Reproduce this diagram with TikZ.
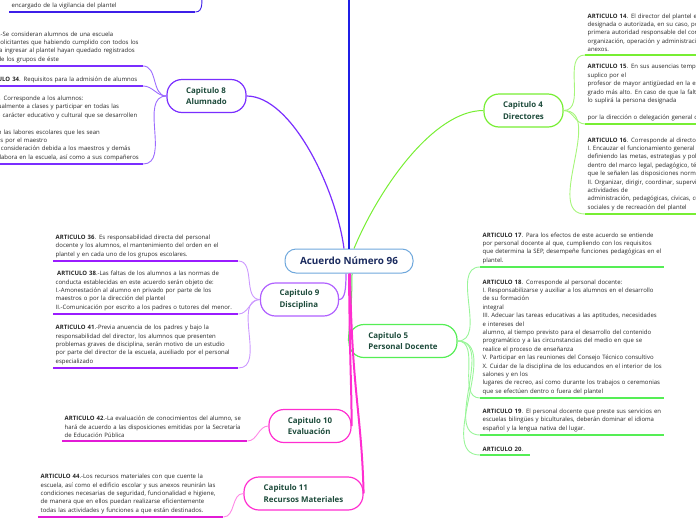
\documentclass[tikz,border=0pt]{standalone}
\usepackage{fontspec}
\setmainfont{Open Sans}
\usepackage{tikz}

\definecolor{ttlblue}{HTML}{1A2A5E}
\definecolor{chapgreen}{HTML}{1D4B3B}
\definecolor{hubline}{HTML}{6FA8DC}
\definecolor{blueline}{HTML}{1F1FE6}
\definecolor{blue7}{HTML}{3D1FE8}
\definecolor{violet8}{HTML}{7A2EFF}
\definecolor{violet8l}{HTML}{9C6BFF}
\definecolor{purple9}{HTML}{B060FF}
\definecolor{purple9d}{HTML}{9A1CFF}
\definecolor{purple9l}{HTML}{CC99FF}
\definecolor{magen}{HTML}{FF2ED0}
\definecolor{magend}{HTML}{E21BD6}
\definecolor{magenl}{HTML}{FF88E6}
\definecolor{green4}{HTML}{77EE33}
\definecolor{green4l}{HTML}{A6F57A}
\definecolor{green5}{HTML}{55EE55}
\definecolor{green5l}{HTML}{99F599}

\tikzset{
  art/.style={inner xsep=2.5pt, inner ysep=3pt, align=left, text width=180pt, text=black!85, font=\fontsize{6}{8.4}\selectfont},
  chap/.style={draw, fill=white, rounded corners=15pt, line width=1.2pt, minimum height=33pt, align=left, text=chapgreen, font=\fontsize{7.9}{11.5}\selectfont\bfseries},
  uline/.style={line width=1.5pt},
  link/.style={line width=0.9pt},
}

\begin{document}
\begin{tikzpicture}[x=1pt, y=-1pt]
\useasboundingbox (0,0) rectangle (696,520);
\clip (0,0) rectangle (696,520);

% central topic
\node[draw=hubline, line width=1pt, fill=white, rounded corners=11pt, minimum width=128pt, minimum height=24pt, text=ttlblue, font=\fontsize{9.9}{11}\selectfont\bfseries] (acuerdo) at (349,261) {Acuerdo Número 96};

% chapters
\node[chap, draw=violet8, minimum width=79pt] (cap8) at (206.5,96) {Capitulo 8\\Alumnado};
\node[chap, draw=purple9, minimum width=78pt] (cap9) at (299.5,299.5) {Capitulo 9\\Disciplina};
\node[chap, draw=magen, minimum width=82pt] (cap10) at (310,426) {Capitulo 10\\Evaluación};
\node[chap, draw=magen, minimum width=119pt] (cap11) at (303.5,493.5) {Capitulo 11\\Recursos Materiales};
\node[chap, draw=green4, minimum width=79pt] (cap4) at (523.5,110.5) {Capitulo 4\\Directores};
\node[chap, draw=green5, minimum width=108pt] (cap5) at (403,341) {Capitulo 5\\Personal Docente};

\coordinate (offtop) at (349,-10);
\coordinate (offvig) at (202,-10);

% articles, left side
\node[art, anchor=south west, text width=181pt] (avig) at (9,12) {encargado de la vigilancia del plantel};
\node[art, anchor=south east] (a33) at (143,66) {\textbf{ARTICULO 33}.-Se consideran alumnos de una escuela\\primaria, los solicitantes que habiendo cumplido con todos los\\requisitos para ingresar al plantel hayan quedado registrados\\en cada uno de los grupos de éste};
\node[art, anchor=south east, text width=160pt] (a34) at (143,86) {\textbf{ARTICULO 34}. Requisitos para la admisión de alumnos};
\node[art, anchor=south east] (a35) at (143,164) {\textbf{ARTICULO 35}. Corresponde a los alumnos:\\I. Asistir puntualmente a clases y participar en todas las\\actividades de carácter educativo y cultural que se desarrollen\\en el plantel\\II. Cumplir con las labores escolares que les sean\\encomendadas por el maestro\\III. Guardar la consideración debida a los maestros y demás\\personal que labora en la escuela, así como a sus compañeros};

\node[art, anchor=south west] (a36) at (53,261) {\textbf{ARTICULO 36}. Es responsabilidad directa del personal\\docente y los alumnos, el mantenimiento del orden en el\\plantel y en cada uno de los grupos escolares.};
\node[art, anchor=south west] (a38) at (53,314) {\hspace*{1.5pt}\textbf{ARTICULO 38}.-Las faltas de los alumnos a las normas de\\conducta establecidas en este acuerdo serán objeto de:\\I.-Amonestación al alumno en privado por parte de los\\maestros o por la dirección del plantel\\\mbox{II.-Comunicación por escrito a los padres o tutores del menor.}};
\node[art, anchor=south west] (a41) at (53,368) {\textbf{ARTICULO 41}.-Previa anuencia de los padres y bajo la\\responsabilidad del director, los alumnos que presenten\\problemas graves de disciplina, serán motivo de un estudio\\\mbox{por parte del director de la escuela, auxiliado por el personal}\\especializado};
\node[art, anchor=south west] (a42) at (62,441) {\textbf{ARTICULO 42}.-La evaluación de conocimientos del alumno, se\\hará de acuerdo a las disposiciones emitidas por la Secretaría\\de Educación Pública};
\node[art, anchor=south west] (a44) at (38,517) {\textbf{ARTICULO 44}.-Los recursos materiales con que cuente la\\escuela, así como el edificio escolar y sus anexos reunirán las\\condiciones necesarias de seguridad, funcionalidad e higiene,\\de manera que en ellos puedan realizarse eficientemente\\todas las actividades y funciones a que están destinados.};

% articles, right side
\node[art, anchor=south west, text width=260pt] (a14) at (585,55) {\textbf{ARTICULO 14}. El director del plantel es la persona\\designada o autorizada, en su caso, por la SEP, como\\primera autoridad responsable del correcto funcionamiento,\\organización, operación y administración de la escuela y sus\\anexos.};
\node[art, anchor=south west, text width=260pt] (a15) at (585,124) {\textbf{ARTICULO 15}. En sus ausencias temporales, el director será\\suplico por el\\profesor de mayor antigüedad en la escuela que atienda el\\grado más alto. En caso de que la falta sea definitiva,\\lo suplirá la persona designada\\[8.4pt]por la dirección o delegación general correspondiente.};
\node[art, anchor=south west, text width=260pt] (a16) at (585,214) {\textbf{ARTICULO 16}. Corresponde al director del plantel:\\I. Encauzar el funcionamiento general de la escuela,\\definiendo las metas, estrategias y políticas de operación\\dentro del marco legal, pedagógico, técnico y administrativo\\que le señalen las disposiciones normativas\\II. Organizar, dirigir, coordinar, supervisar y evaluar las\\actividades de\\administración, pedagógicas, cívicas, culturales, deportivas,\\sociales y de recreación del plantel};

\node[art, anchor=south west, text width=179pt] (a17) at (480,267) {\textbf{ARTICULO 17}. Para los efectos de este acuerdo se entiende\\por personal docente al que, cumpliendo con los requisitos\\\mbox{que determina la SEP, desempeñe funciones pedagógicas en el}\\plantel.};
\node[art, anchor=south west, text width=179pt] (a18) at (480,398) {\textbf{ARTICULO 18}. Corresponde al personal docente:\\\mbox{I. Responsabilizarse y auxiliar a los alumnos en el desarrollo}\\de su formación\\integral\\\mbox{III. Adecuar las tareas educativas a las aptitudes, necesidades}\\e intereses del\\alumno, al tiempo previsto para el desarrollo del contenido\\programático y a las circunstancias del medio en que se\\realice el proceso de enseñanza\\\mbox{V. Participar en las reuniones del Consejo Técnico consultivo}\\\mbox{X. Cuidar de la disciplina de los educandos en el interior de los}\\salones y en los\\\mbox{lugares de recreo, así como durante los trabajos o ceremonias}\\que se efectúen dentro o fuera del plantel};
\node[art, anchor=south west, text width=179pt] (a19) at (480,435) {\mbox{\textbf{ARTICULO 19}. El personal docente que preste sus servicios en}\\escuelas bilingües y biculturales, deberán dominar el idioma\\español y la lengua nativa del lugar.};
\node[art, anchor=south west, text width=45pt] (a20) at (480,455) {\textbf{ARTICULO 20}.};

% underlines
\draw[blue7, uline] (avig.south west) -- (avig.south east);
\foreach \a in {a33,a34,a35} \draw[violet8, uline] (\a.south west) -- (\a.south east);
\foreach \a in {a36,a38,a41} \draw[purple9d, uline] (\a.south west) -- (\a.south east);
\foreach \a in {a42,a44} \draw[magend, uline] (\a.south west) -- (\a.south east);
\foreach \a in {a14,a15,a16} \draw[green4, uline] (\a.south west) -- (\a.south east);
\foreach \a in {a17,a18,a19,a20} \draw[green5, uline] (\a.south west) -- (\a.south east);

% chapter to article links
\draw[blue7, link] (avig.south east) to[out=0,in=-95] (offvig);
\foreach \a in {a33,a34,a35} \draw[violet8l, link] (cap8.west) to[out=180,in=0] (\a.south east);
\foreach \a in {a36,a38,a41} \draw[purple9l, link] (cap9.west) to[out=180,in=0] (\a.south east);
\draw[magenl, link] (cap10.west) to[out=180,in=0] (a42.south east);
\draw[magenl, link] (cap11.west) to[out=180,in=0] (a44.south east);
\foreach \a in {a14,a15,a16} \draw[green4l, link] (cap4.east) to[out=0,in=180] (\a.south west);
\foreach \a in {a17,a18,a19,a20} \draw[green5l, link] (cap5.east) to[out=0,in=180] (\a.south west);

% central topic to chapters
\draw[blueline, line width=2.6pt] (acuerdo.north) -- (offtop);
\draw[violet8, line width=1.2pt] ([xshift=-5pt]acuerdo.north) .. controls +(-8,-60) and +(45,0) .. (cap8.east);
\draw[green4, line width=1pt] ([xshift=5pt]acuerdo.north) .. controls +(25,-60) and +(-50,0) .. (cap4.west);
\draw[purple9, line width=1.2pt] ([xshift=-3pt]acuerdo.south) .. controls +(0,15) and +(6,0) .. (cap9.east);
\draw[green5, line width=1pt] ([xshift=3pt]acuerdo.south) .. controls +(0,40) and +(0,-10) .. (cap5.west);
\draw[magen, line width=2pt] (acuerdo.south) .. controls +(1,100) and +(0,-40) .. (cap10.east);
\draw[magen, line width=2pt] ([xshift=1pt]acuerdo.south) .. controls +(2,120) and +(-2,-80) .. (cap11.east);
\end{tikzpicture}
\end{document}
